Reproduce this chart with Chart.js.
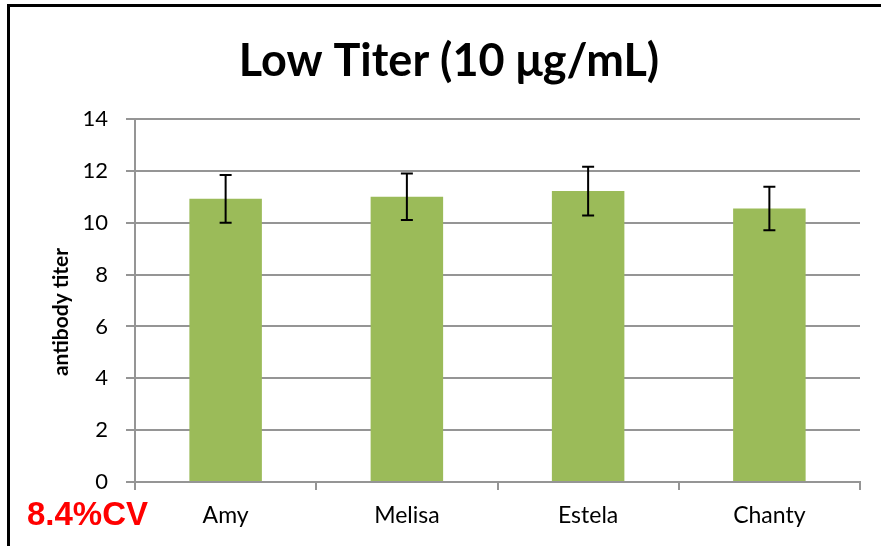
<!DOCTYPE html>
<html>
<head>
<meta charset="utf-8">
<script src="https://cdn.jsdelivr.net/npm/chart.js@4"></script>
<style>
  html, body { margin: 0; padding: 0; background: #fff; overflow: hidden; }
  canvas { display: block; }
</style>
</head>
<body>
<canvas id="titerChart" width="881" height="546"></canvas>
<script>
// chart data
const names = ['Amy', 'Melisa', 'Estela', 'Chanty'];
const titerMeans = [10.92, 11.0, 11.22, 10.55];
const titerErrors = [0.92, 0.9, 0.94, 0.84];
const yTicks = [0, 2, 4, 6, 8, 10, 12, 14];
const chartTitle = 'Low Titer (10 μg/mL)';
const yAxisTitle = 'antibody titer';
const cvNote = '8.4%CV';

const gridGray = '#959595';

// draws +/- error bars on top of each bar
const errorBars = {
  id: 'errorBars',
  afterDatasetsDraw(chart) {
    const ctx = chart.ctx;
    const yScale = chart.scales.y;
    const meta = chart.getDatasetMeta(0);
    ctx.save();
    ctx.strokeStyle = '#000';
    ctx.lineWidth = 2;
    meta.data.forEach((bar, i) => {
      const top = yScale.getPixelForValue(titerMeans[i] + titerErrors[i]);
      const bottom = yScale.getPixelForValue(titerMeans[i] - titerErrors[i]);
      ctx.beginPath();
      ctx.moveTo(bar.x, top);
      ctx.lineTo(bar.x, bottom);
      ctx.moveTo(bar.x - 6, top);
      ctx.lineTo(bar.x + 6, top);
      ctx.moveTo(bar.x - 6, bottom);
      ctx.lineTo(bar.x + 6, bottom);
      ctx.stroke();
    });
    ctx.restore();
  }
};

// frame, title, axis title and the CV note
const decorations = {
  id: 'decorations',
  afterDraw(chart) {
    const ctx = chart.ctx;
    ctx.save();
    ctx.strokeStyle = '#000';
    ctx.lineWidth = 3;
    ctx.beginPath();
    ctx.moveTo(8.5, 546);
    ctx.lineTo(8.5, 5.5);
    ctx.lineTo(881, 5.5);
    ctx.stroke();

    ctx.fillStyle = '#000';
    ctx.textAlign = 'center';
    ctx.textBaseline = 'alphabetic';
    ctx.font = 'bold 45px Lato, "DejaVu Sans", sans-serif';
    ctx.fillText(chartTitle, 449, 76);

    ctx.save();
    ctx.translate(61, 312);
    ctx.rotate(-Math.PI / 2);
    ctx.textBaseline = 'middle';
    ctx.font = 'bold 21px Lato, sans-serif';
    ctx.fillText(yAxisTitle, 0, 0);
    ctx.restore();

    ctx.textAlign = 'left';
    ctx.fillStyle = '#ff0000';
    ctx.font = 'bold 33px "Liberation Sans", Arial, sans-serif';
    ctx.fillText(cvNote, 27, 525);
    ctx.restore();
  }
};

new Chart(document.getElementById('titerChart').getContext('2d'), {
  type: 'bar',
  data: {
    labels: names,
    datasets: [{
      label: 'antibody titer',
      data: titerMeans,
      backgroundColor: '#9bbb59',
      borderWidth: 0,
      categoryPercentage: 1,
      barPercentage: 0.4
    }]
  },
  options: {
    responsive: false,
    animation: false,
    layout: { padding: { top: 119, right: 21, bottom: 0, left: 8 } },
    plugins: { legend: { display: false }, tooltip: { enabled: false }, title: { display: false } },
    scales: {
      x: {
        afterFit: s => { s.height = 64; },
        grid: { offset: true, drawOnChartArea: false, drawTicks: true, tickLength: 8, color: gridGray, lineWidth: 2 },
        border: { display: true, color: gridGray, width: 2 },
        ticks: { color: '#000', padding: 12, font: { family: 'Lato', size: 23 } }
      },
      y: {
        min: yTicks[0],
        max: yTicks[yTicks.length - 1],
        afterFit: s => { s.width = 127; },
        grid: { color: gridGray, lineWidth: 2, tickLength: 9 },
        border: { display: true, color: gridGray, width: 2 },
        ticks: { stepSize: yTicks[1] - yTicks[0], color: '#000', padding: 18, font: { family: 'Lato', size: 22 } }
      }
    }
  },
  plugins: [errorBars, decorations]
});
</script>
</body>
</html>
